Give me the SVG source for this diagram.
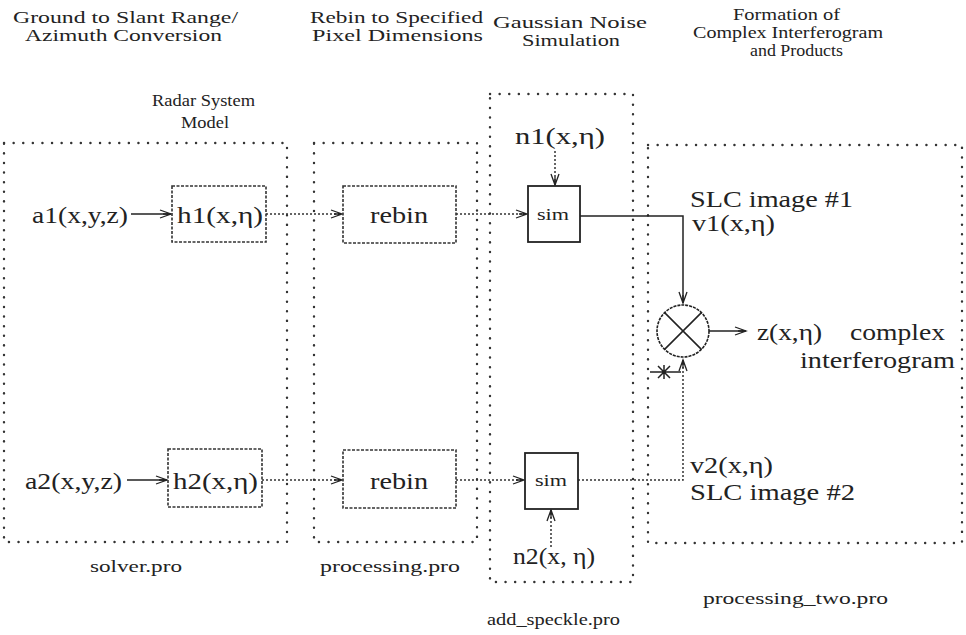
<svg xmlns="http://www.w3.org/2000/svg" width="966" height="635" viewBox="0 0 966 635">
<defs>
<marker id="arr" markerWidth="14" markerHeight="10" refX="12" refY="5" orient="auto" markerUnits="userSpaceOnUse">
<path d="M1,1 L12,5 L1,9 M4,5 L12,5" fill="none" stroke="#222" stroke-width="1.3"/>
</marker>
</defs>
<style>
.frame{fill:none;stroke:#333;stroke-width:2.4;stroke-dasharray:0.1 9.5;stroke-linecap:round}
.box{fill:#fff;stroke:#333;stroke-width:1.6;stroke-dasharray:3 1.5}
.sbox{fill:#fff;stroke:#222;stroke-width:1.8}
.t{font-family:"Liberation Serif","Times New Roman",serif;fill:#222}
.title{font-size:17px}
.lbl{font-size:24px}
.small{font-size:17px}
.dotl{fill:none;stroke:#333;stroke-width:1.5;stroke-dasharray:2 2}
.solid{fill:none;stroke:#222;stroke-width:1.5}
</style>
<rect width="966" height="635" fill="#fff"/>

<g id="titles">
<text class="t title" x="13" y="23" textLength="225" lengthAdjust="spacingAndGlyphs">Ground to Slant Range/</text>
<text class="t title" x="25" y="41" textLength="197" lengthAdjust="spacingAndGlyphs">Azimuth Conversion</text>
<text class="t title" x="310" y="23" textLength="173" lengthAdjust="spacingAndGlyphs">Rebin to Specified</text>
<text class="t title" x="312" y="41" textLength="171" lengthAdjust="spacingAndGlyphs">Pixel Dimensions</text>
<text class="t title" x="493" y="28" textLength="154" lengthAdjust="spacingAndGlyphs">Gaussian Noise</text>
<text class="t title" x="522" y="46" textLength="98" lengthAdjust="spacingAndGlyphs">Simulation</text>
<text class="t title" x="733" y="20" textLength="107" lengthAdjust="spacingAndGlyphs">Formation of</text>
<text class="t title" x="693" y="38" textLength="190" lengthAdjust="spacingAndGlyphs">Complex Interferogram</text>
<text class="t title" x="750" y="56" textLength="93" lengthAdjust="spacingAndGlyphs">and Products</text>
<text class="t title" x="152" y="106" textLength="103" lengthAdjust="spacingAndGlyphs">Radar System</text>
<text class="t title" x="181" y="128" textLength="48" lengthAdjust="spacingAndGlyphs">Model</text>
</g>

<g id="frame-solver">
<rect class="frame" x="4" y="143" width="283" height="399"/>
<text class="t title" x="90" y="572" textLength="92" lengthAdjust="spacingAndGlyphs">solver.pro</text>
</g>
<g id="frame-processing">
<rect class="frame" x="314" y="143" width="163" height="399"/>
<text class="t title" x="320" y="572" textLength="140" lengthAdjust="spacingAndGlyphs">processing.pro</text>
</g>
<g id="frame-add-speckle">
<rect class="frame" x="490" y="94" width="143" height="488"/>
<text class="t title" x="487" y="625" textLength="133" lengthAdjust="spacingAndGlyphs">add_speckle.pro</text>
</g>
<g id="frame-processing-two">
<rect class="frame" x="648" y="145" width="314" height="398"/>
<text class="t title" x="703" y="604" textLength="185" lengthAdjust="spacingAndGlyphs">processing_two.pro</text>
</g>

<g id="connectors">
<line class="solid" x1="131" y1="214" x2="171" y2="214" marker-end="url(#arr)"/>
<line class="dotl" x1="266" y1="214" x2="342" y2="214" marker-end="url(#arr)"/>
<line class="dotl" x1="456" y1="214" x2="527" y2="214" marker-end="url(#arr)"/>
<line class="dotl" x1="555" y1="151" x2="555" y2="185" marker-end="url(#arr)"/>
<polyline class="solid" points="580,216 683,216 683,303" marker-end="url(#arr)"/>
<line class="solid" x1="709" y1="331" x2="746" y2="331" marker-end="url(#arr)"/>
<line class="solid" x1="127" y1="480" x2="167" y2="480" marker-end="url(#arr)"/>
<line class="dotl" x1="262" y1="480" x2="342" y2="480" marker-end="url(#arr)"/>
<line class="dotl" x1="456" y1="480" x2="524" y2="480" marker-end="url(#arr)"/>
<line class="dotl" x1="551" y1="547" x2="551" y2="510" marker-end="url(#arr)"/>
<polyline class="dotl" points="578,480 683,480 683,360" marker-end="url(#arr)"/>
<path class="solid" d="M650,372 L681,372 M658,366 L670,378 M670,366 L658,378 M664,365 L664,379"/>
</g>

<g id="a1"><text class="t lbl" x="32" y="223" textLength="96" lengthAdjust="spacingAndGlyphs">a1(x,y,z)</text></g>
<g id="h1">
<rect class="box" x="172" y="186" width="94" height="56"/>
<text class="t lbl" x="177" y="223" textLength="86" lengthAdjust="spacingAndGlyphs">h1(x,η)</text>
</g>
<g id="rebin1">
<rect class="box" x="343" y="186" width="113" height="57"/>
<text class="t lbl" x="370" y="223" textLength="58" lengthAdjust="spacingAndGlyphs">rebin</text>
</g>
<g id="n1"><text class="t lbl" x="515" y="144" textLength="90" lengthAdjust="spacingAndGlyphs">n1(x,η)</text></g>
<g id="sim1">
<rect class="sbox" x="528" y="186" width="52" height="56"/>
<text class="t small" x="537" y="220" textLength="32" lengthAdjust="spacingAndGlyphs">sim</text>
</g>
<g id="slc1">
<text class="t lbl" x="690" y="207" textLength="163" lengthAdjust="spacingAndGlyphs">SLC image #1</text>
<text class="t lbl" x="692" y="231" textLength="83" lengthAdjust="spacingAndGlyphs">v1(x,η)</text>
</g>
<g id="multiplier">
<circle cx="683" cy="331" r="26" fill="#fff" stroke="#222" stroke-width="1.6" stroke-dasharray="3 1"/>
<path class="solid" d="M664.6,312.6 L701.4,349.4 M701.4,312.6 L664.6,349.4"/>
</g>
<g id="z">
<text class="t lbl" x="757" y="340" textLength="65" lengthAdjust="spacingAndGlyphs">z(x,η)</text>
<text class="t lbl" x="850" y="340" textLength="95" lengthAdjust="spacingAndGlyphs">complex</text>
<text class="t lbl" x="800" y="368" textLength="155" lengthAdjust="spacingAndGlyphs">interferogram</text>
</g>
<g id="a2"><text class="t lbl" x="25" y="489" textLength="97" lengthAdjust="spacingAndGlyphs">a2(x,y,z)</text></g>
<g id="h2">
<rect class="box" x="168" y="449" width="94" height="58"/>
<text class="t lbl" x="173" y="489" textLength="85" lengthAdjust="spacingAndGlyphs">h2(x,η)</text>
</g>
<g id="rebin2">
<rect class="box" x="343" y="450" width="113" height="58"/>
<text class="t lbl" x="370" y="489" textLength="58" lengthAdjust="spacingAndGlyphs">rebin</text>
</g>
<g id="sim2">
<rect class="sbox" x="525" y="453" width="53" height="56"/>
<text class="t small" x="535" y="486" textLength="32" lengthAdjust="spacingAndGlyphs">sim</text>
</g>
<g id="n2"><text class="t lbl" x="513" y="564" textLength="82" lengthAdjust="spacingAndGlyphs">n2(x, η)</text></g>
<g id="slc2">
<text class="t lbl" x="690" y="473" textLength="83" lengthAdjust="spacingAndGlyphs">v2(x,η)</text>
<text class="t lbl" x="690" y="500" textLength="165" lengthAdjust="spacingAndGlyphs">SLC image #2</text>
</g>
</svg>
